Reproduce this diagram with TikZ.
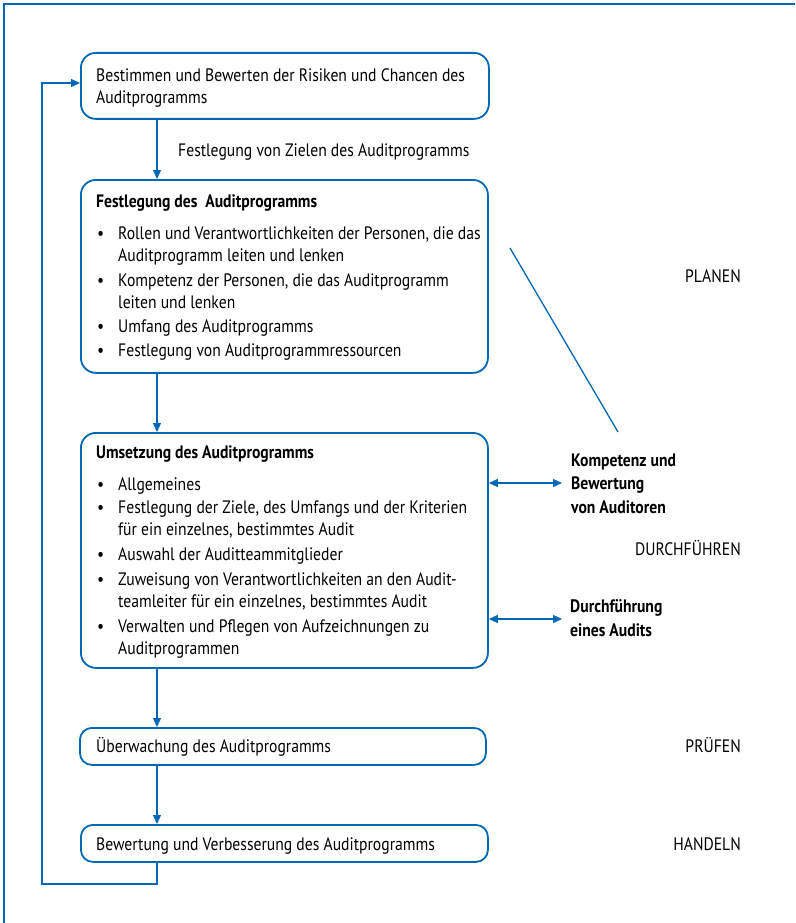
\documentclass[tikz,border=0pt]{standalone}
\usepackage{fontspec}
\setmainfont{PT Sans}[FakeStretch=0.87]
\usetikzlibrary{arrows.meta}
\definecolor{bl}{RGB}{0,104,180}
\newcommand{\bt}{\hspace{1pt}\textbullet}
\tikzset{
  box/.style={draw=bl, line width=1.8pt, rounded corners=15pt, anchor=north west, inner sep=0pt},
  sbox/.style={box, rounded corners=12pt},
  txt/.style={inner sep=0pt, anchor=north west, font=\fontsize{18}{22}\selectfont},
  lbl/.style={inner sep=0pt, anchor=north east, font=\fontsize{18}{22}\selectfont},
  conn/.style={draw=bl, line width=1.3pt, -{Triangle[length=9pt,width=8pt]}},
  dconn/.style={draw=bl, line width=1.3pt, {Triangle[length=9pt,width=8pt]}-{Triangle[length=9pt,width=8pt]}},
  plain/.style={draw=bl, line width=1.3pt},
  frame/.style={draw=bl, line width=2pt}
}
\begin{document}
\begin{tikzpicture}[x=1pt,y=-1pt]
\useasboundingbox (0,0) rectangle (795,923);
% frame
\coordinate (fa) at (4,923);
\coordinate (fb) at (4,4);
\coordinate (fc) at (795,4);
\draw[frame] (fa) -- (fb) -- (fc);

% boxes
\node[box, minimum width=408pt, minimum height=66pt] (b1) at (80,52) {};
\node[box, minimum width=407pt, minimum height=193pt] (b2) at (80,179) {};
\node[box, minimum width=407pt, minimum height=235pt] (b3) at (80,432) {};
\node[sbox, minimum width=406pt, minimum height=37pt] (b4) at (79,727) {};
\node[sbox, minimum width=407pt, minimum height=37pt] (b5) at (80,824) {};

% box texts
\node[txt] (t1) at (96,65.6) {\begin{tabular}{@{}l@{}}
Bestimmen und Bewerten der Risiken und Chancen des\\
Auditprogramms
\end{tabular}};

\node[txt] (t2) at (96,191.6) {\begin{tabular}{@{}p{22pt}@{}l@{}}
\multicolumn{2}{@{}l@{}}{\textbf{Festlegung des\ \ Auditprogramms}}\\[10pt]
\bt & Rollen und Verantwortlichkeiten der Personen, die das\\
 & Auditprogramm leiten und lenken\\[3pt]
\bt & Kompetenz der Personen, die das Auditprogramm\\
 & leiten und lenken\\[2pt]
\bt & Umfang des Auditprogramms\\[2pt]
\bt & Festlegung von Auditprogrammressourcen
\end{tabular}};

\node[txt] (t3) at (96,442.6) {\begin{tabular}{@{}p{22pt}@{}l@{}}
\multicolumn{2}{@{}l@{}}{\textbf{Umsetzung des Auditprogramms}}\\[10pt]
\bt & Allgemeines\\[1pt]
\bt & Festlegung der Ziele, des Umfangs und der Kriterien\\
 & für ein einzelnes, bestimmtes Audit\\[3pt]
\bt & Auswahl der Auditteammitglieder\\[3pt]
\bt & Zuweisung von Verantwortlichkeiten an den Audit-\\
 & teamleiter für ein einzelnes, bestimmtes Audit\\[3pt]
\bt & Verwalten und Pflegen von Aufzeichnungen zu\\
 & Auditprogrammen
\end{tabular}};

\node[txt] (t4) at (96,736.6) {\begin{tabular}{@{}l@{}}Überwachung des Auditprogramms\end{tabular}};
\node[txt] (t5) at (96,834.6) {\begin{tabular}{@{}l@{}}Bewertung und Verbesserung des Auditprogramms\end{tabular}};

% arrow label
\node[txt] (fz) at (178,140.6) {\begin{tabular}{@{}l@{}}Festlegung von Zielen des Auditprogramms\end{tabular}};

% vertical connectors
\coordinate (ax) at (157,0);
\draw[conn] (ax |- b1.south) -- (ax |- b2.north);
\draw[conn] (ax |- b2.south) -- (ax |- b3.north);
\draw[conn] (ax |- b3.south) -- (ax |- b4.north);
\draw[conn] (ax |- b4.south) -- (ax |- b5.north);

% feedback loop
\coordinate (lb) at (42,884);
\coordinate (lt) at (42,83);
\draw[conn] (ax |- b5.south) |- (lb) -- (lt) -- (b1.west |- lt);

% diagonal line
\coordinate (d1) at (510,248);
\coordinate (d2) at (618,432);
\draw[plain] (d1) -- (d2);

% side labels
\node[txt, font=\fontsize{18}{23.5}\selectfont\bfseries] (kl) at (571,449.5) {\begin{tabular}{@{}l@{}}
Kompetenz und\\ Bewertung\\ von Auditoren\end{tabular}};
\node[txt, font=\fontsize{18}{24}\selectfont\bfseries] (dl) at (570,595.2) {\begin{tabular}{@{}l@{}}
Durchführung\\ eines Audits\end{tabular}};

\coordinate (k1) at (562,483);
\coordinate (k2) at (562,619);
\draw[dconn] (b3.east |- k1) -- (k1);
\draw[dconn] (b3.east |- k2) -- (k2);

% phase labels
\node[lbl] (p1) at (741,266.6) {\begin{tabular}{@{}r@{}}PLANEN\end{tabular}};
\node[lbl] (p2) at (741,539.6) {\begin{tabular}{@{}r@{}}DURCHFÜHREN\end{tabular}};
\node[lbl] (p3) at (741,736.6) {\begin{tabular}{@{}r@{}}PRÜFEN\end{tabular}};
\node[lbl] (p4) at (741,834.6) {\begin{tabular}{@{}r@{}}HANDELN\end{tabular}};
\end{tikzpicture}
\end{document}
